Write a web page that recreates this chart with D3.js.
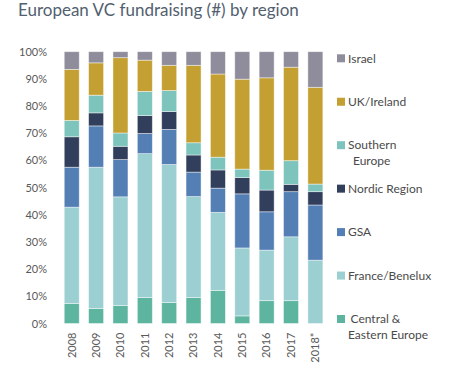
<!DOCTYPE html>
<html>
<head>
<meta charset="utf-8">
<script src="https://cdn.jsdelivr.net/npm/d3@7"></script>
<style>
  html, body { margin: 0; padding: 0; background: #ffffff; }
  svg { display: block; }
</style>
</head>
<body>
<svg id="chart" width="454" height="387"></svg>
<script>
const years = ["2008","2009","2010","2011","2012","2013","2014","2015","2016","2017","2018*"];
const ceeValues    = [7.4, 5.5, 6.6, 9.6, 7.7, 9.6, 12.2, 2.8, 8.4, 8.4, 0];
const franceValues = [35.4, 52.0, 40.0, 52.9, 50.8, 37.1, 28.7, 25.0, 18.6, 23.5, 23.3];
const gsaValues    = [14.7, 15.2, 13.7, 7.4, 12.9, 9.0, 8.9, 19.9, 14.1, 16.6, 20.3];
const nordicValues = [11.2, 4.8, 4.9, 6.6, 6.6, 6.3, 6.7, 6.0, 8.0, 2.7, 4.9];
const southValues  = [6.0, 6.5, 4.9, 8.9, 7.7, 4.5, 4.7, 3.1, 7.3, 8.7, 2.8];
const ukValues     = [18.8, 11.9, 27.7, 11.5, 9.3, 28.5, 30.6, 33.1, 34.0, 34.4, 35.6];
const israelValues = [6.5, 4.1, 2.2, 3.1, 5.0, 5.0, 8.2, 10.1, 9.6, 5.7, 13.1];
const yTicks = [0, 10, 20, 30, 40, 50, 60, 70, 80, 90, 100];

// stacking order bottom -> top
const seriesKeys = ["cee", "france", "gsa", "nordic", "south", "uk", "israel"];
const seriesLabels = {
  cee: ["Central &", "Eastern Europe"],
  france: ["France/Benelux"],
  gsa: ["GSA"],
  nordic: ["Nordic Region"],
  south: ["Southern", "Europe"],
  uk: ["UK/Ireland"],
  israel: ["Israel"]
};
const colors = {
  cee: "#5db5a0",
  france: "#9bcfd1",
  gsa: "#537fb5",
  nordic: "#323f5c",
  south: "#7cc4bc",
  uk: "#c4a032",
  israel: "#8f8c9b"
};
const valueArrays = {
  cee: ceeValues, france: franceValues, gsa: gsaValues, nordic: nordicValues,
  south: southValues, uk: ukValues, israel: israelValues
};

const table = years.map((y, i) => {
  const row = { year: y };
  seriesKeys.forEach(k => row[k] = valueArrays[k][i]);
  return row;
});

const svg = d3.select("#chart");
const font = "Lato, 'Open Sans', sans-serif";

svg.append("text")
  .attr("x", 18).attr("y", 16)
  .attr("font-family", font)
  .attr("font-size", 17)
  .attr("fill", "#52606f")
  .text("European VC fundraising (#) by region");

const x = d3.scaleBand()
  .domain(years)
  .range([59.6, 327.5])
  .paddingInner(0.384)
  .paddingOuter(0.19);

const y = d3.scaleLinear().domain([0, 100]).range([323.5, 51.7]);

const stack = d3.stack().keys(seriesKeys);
const stacked = stack(table);

svg.append("g")
  .selectAll("g")
  .data(stacked)
  .join("g")
  .attr("fill", d => colors[d.key])
  .selectAll("rect")
  .data(d => d)
  .join("rect")
  .attr("x", d => x(d.data.year))
  .attr("width", x.bandwidth())
  .attr("y", d => y(d[1]))
  .attr("height", d => Math.max(0, y(d[0]) - y(d[1])))
  .attr("stroke", "#ffffff")
  .attr("stroke-opacity", 0.55)
  .attr("stroke-width", 0.8);

const yAxis = svg.append("g")
  .attr("transform", "translate(52,0)")
  .call(d3.axisLeft(y).tickValues(yTicks).tickSize(0).tickPadding(5).tickFormat(d => d + "%"));
yAxis.select(".domain").remove();
yAxis.selectAll("text")
  .attr("font-family", font)
  .attr("font-size", 11)
  .attr("fill", "#595959");

const xAxis = svg.append("g")
  .attr("transform", "translate(0,323.5)")
  .call(d3.axisBottom(x).tickSize(0));
xAxis.select(".domain").remove();
xAxis.selectAll("text")
  .attr("font-family", font)
  .attr("font-size", 11)
  .attr("fill", "#595959")
  .attr("transform", "rotate(-90)")
  .attr("text-anchor", "end")
  .attr("x", -9)
  .attr("y", 0)
  .attr("dy", "0.35em");

// legend (top to bottom: reverse stacking)
const legendOrder = seriesKeys.slice().reverse();
const legendY = d3.scalePoint().domain(legendOrder).range([58.3, 319]);
const legend = svg.append("g");
legendOrder.forEach(k => {
  const g = legend.append("g").attr("transform", `translate(0,${legendY(k)})`);
  g.append("rect")
    .attr("x", 337).attr("y", -4)
    .attr("width", 8).attr("height", 8)
    .attr("fill", colors[k]);
  const lines = seriesLabels[k];
  lines.forEach((line, j) => {
    let tx = 348;
    if (k === "south" && j === 1) tx = 353;
    if (k === "cee" && j === 0) tx = 350.5;
    g.append("text")
      .attr("x", tx)
      .attr("y", j * 16)
      .attr("dy", "0.35em")
      .attr("font-family", font)
      .attr("font-size", 12)
      .attr("fill", "#4a4a4a")
      .text(line);
  });
});
</script>
</body>
</html>
